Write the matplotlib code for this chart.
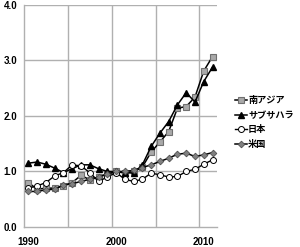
import matplotlib
matplotlib.use("Agg")
import matplotlib.pyplot as plt

plt.rcParams['font.family'] = ['Liberation Sans', 'Noto Sans CJK JP', 'DejaVu Sans']

years = list(range(1990, 2012))
south_asia = [0.80, 0.68, 0.70, 0.70, 0.74, 0.80, 0.93, 0.85, 0.90, 0.96, 1.00,
              0.97, 1.00, 1.08, 1.35, 1.53, 1.72, 2.14, 2.17, 2.34, 2.81, 3.07]
sub_saharan = [1.15, 1.17, 1.13, 1.06, 0.98, 1.05, 1.12, 1.12, 1.05, 1.00, 1.00,
               0.98, 0.97, 1.12, 1.45, 1.69, 1.90, 2.20, 2.42, 2.25, 2.62, 2.88]
japan = [0.70, 0.74, 0.80, 0.92, 0.98, 1.12, 1.10, 0.98, 0.82, 0.90, 0.98,
         0.86, 0.82, 0.86, 0.97, 0.94, 0.90, 0.91, 1.00, 1.04, 1.13, 1.21]
usa = [0.64, 0.64, 0.67, 0.68, 0.76, 0.78, 0.82, 0.86, 0.90, 0.95, 1.00,
       1.00, 1.02, 1.07, 1.12, 1.18, 1.24, 1.31, 1.33, 1.27, 1.30, 1.34]
labels = ['南アジア', 'サブサハラ', '日本', '米国']
xtick_years = [1990, 2000, 2010]
yticks = [0.0, 1.0, 2.0, 3.0, 4.0]

fig = plt.figure(figsize=(3.0, 2.47), dpi=100)
ax = fig.add_axes([0.08, 0.081, 0.643, 0.899])

ax.plot(years, south_asia, color='black', lw=1.1, marker='s', ms=4.0,
        mfc='#a9a9a9', mec='#707070', mew=0.8, label=labels[0], zorder=3)
ax.plot(years, sub_saharan, color='black', lw=1.1, marker='^', ms=4.3,
        mfc='black', mec='black', label=labels[1], zorder=3)
ax.plot(years, japan, color='black', lw=1.0, marker='o', ms=4.3,
        mfc='white', mec='black', mew=0.7, label=labels[2], zorder=3)
ax.plot(years, usa, color='black', lw=1.1, marker='D', ms=3.4,
        mfc='#808080', mec='#505050', mew=0.6, label=labels[3], zorder=3)

ax.set_xlim(years[0] - 0.5, years[-1] + 0.5)
ax.set_ylim(0, 4.0)
ax.set_yticks(yticks)
ax.set_yticklabels([f"{v:.1f}" for v in yticks], fontsize=7, fontweight='bold')
ax.set_xticks(xtick_years)
ax.set_xticklabels([str(y) for y in xtick_years], fontsize=7, fontweight='bold')
ax.tick_params(axis='y', length=0, pad=5)
ax.tick_params(axis='x', length=0, pad=7)

for b in [1994.5, 1999.5, 2004.5, 2009.5]:
    ax.axvline(b, color='#b0b0b0', lw=1.0, zorder=1)
for v in yticks[1:]:
    ax.axhline(v, color='#b0b0b0', lw=1.0, zorder=1)

for s in ['top', 'right']:
    ax.spines[s].set_visible(False)
for s in ['left', 'bottom']:
    ax.spines[s].set_color('#b0b0b0')
    ax.spines[s].set_linewidth(1.0)

leg = fig.legend(loc='upper left', bbox_to_anchor=(0.772, 0.625), frameon=False,
                 fontsize=6.6, handlelength=1.3, handletextpad=0.1,
                 labelspacing=0.6, borderaxespad=0)
for t in leg.get_texts():
    t.set_fontweight('bold')

fig.savefig('out.png', dpi=100)
